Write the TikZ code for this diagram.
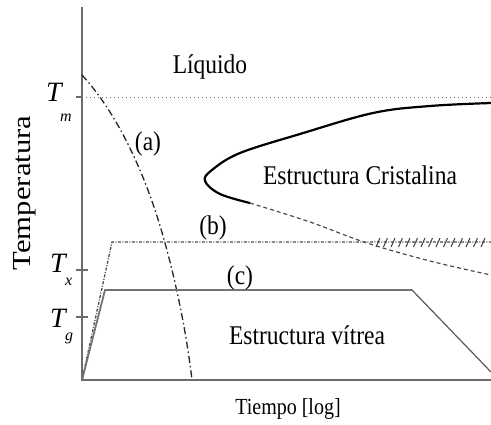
\documentclass[tikz,border=0pt]{standalone}
\usepackage{fontspec}
\setmainfont{Liberation Serif}
\newcommand{\vstr}[1]{\scalebox{1}[1.15]{#1}}
\begin{document}
\begin{tikzpicture}[x=1pt,y=-1pt,
  axis/.style={draw=black!58, line width=1.8pt},
  tickmark/.style={draw=black!58, line width=1.2pt},
  lbl/.style={inner sep=0pt, text=black, font=\fontsize{23.5}{26}\selectfont},
  tlbl/.style={inner sep=0pt, anchor=base west, font=\fontsize{28}{30}\selectfont\itshape},
  sublbl/.style={inner sep=0pt, anchor=base west, font=\fontsize{16}{18}\selectfont\itshape},
  curvea/.style={draw=black!85, line width=1.3pt, dash pattern=on 7pt off 3pt on 1.5pt off 3pt},
  curveb/.style={draw=black!70, line width=1.3pt, dash pattern=on 3pt off 1.5pt on 1pt off 1.5pt},
  curvec/.style={draw=black!55, line width=1.8pt},
  nose/.style={draw=black, line width=2.2pt},
  nosedash/.style={draw=black!70, line width=1.2pt, dash pattern=on 4pt off 3pt},
  hatch/.style={draw=black!75, line width=1pt}]
\useasboundingbox (0,0) rectangle (491,424);
% axes
\coordinate (O) at (82,380);
\coordinate (Ytop) at (82,7);
\coordinate (Xend) at (491,380);
\draw[axis] (Ytop) -- (O) -- (Xend);
% ticks
\draw[tickmark] (76,97) -- (82,97);
\draw[tickmark] (76,270) -- (88,270);
\draw[tickmark] (76,317) -- (88,317);
% Tm dotted line
\coordinate (TmL) at (82,97);
\coordinate (TmR) at (491,97);
\draw[draw=black!55, line width=1pt, dash pattern=on 1pt off 3pt] (TmL) -- (TmR);
% tick labels
\node[tlbl] (Tm) at (46,101) {T};
\node[sublbl] (Tmsub) at (60,121) {m};
\node[tlbl] (Tx) at (50,272) {T};
\node[sublbl] (Txsub) at (65,285) {x};
\node[tlbl] (Tg) at (50,327) {T};
\node[sublbl] (Tgsub) at (65,340) {g};
% axis labels
\node[inner sep=0pt, rotate=90, font=\fontsize{26}{28}\selectfont] (ylab) at (25,193) {\scalebox{1.18}[1]{Temperatura}};
\node[inner sep=0pt, font=\fontsize{20}{22}\selectfont] (xlab) at (288,409) {\vstr{Tiempo [log]}};
% curve (a)
\coordinate (a0) at (82,75);
\coordinate (a1) at (155,210);
\coordinate (a2) at (192,380);
\draw[curvea] (a0) .. controls (116,112) and (140,165) .. (a1) .. controls (170,255) and (185,320) .. (a2);
% nose curve
\draw[nose] plot[smooth, tension=0.6] coordinates {(491,103) (430,106) (373,113) (300,134) (240,153) (212,170) (205,181) (220,194) (250,203)};
\draw[nosedash] plot[smooth, tension=0.6] coordinates {(250,203) (310,222) (367,243) (430,261) (491,275)};
% line (b)
\coordinate (b1) at (112,242);
\coordinate (b2) at (491,242);
\draw[curveb] (O) -- (b1) -- (b2);
\foreach \x in {378,385.5,...,490} {
  \draw[hatch] (\x-2,247) -- (\x+2,238);
}
% line (c)
\coordinate (c1) at (105,290);
\coordinate (c2) at (412,290);
\coordinate (c3) at (491,372);
\draw[curvec] (O) -- (c1) -- (c2);
\draw[draw=black!65, line width=1.2pt] (c2) -- (c3);
% region labels
\node[lbl] (liq) at (210,67) {\vstr{Líquido}};
\node[lbl] (la) at (148,144) {\vstr{(a)}};
\node[lbl] (cris) at (360,175) {\vstr{Estructura Cristalina}};
\node[lbl] (lb) at (213,228) {\vstr{(b)}};
\node[lbl] (lc) at (240,278) {\vstr{(c)}};
\node[lbl] (vit) at (307,335) {\vstr{Estructura vítrea}};
\end{tikzpicture}
\end{document}
